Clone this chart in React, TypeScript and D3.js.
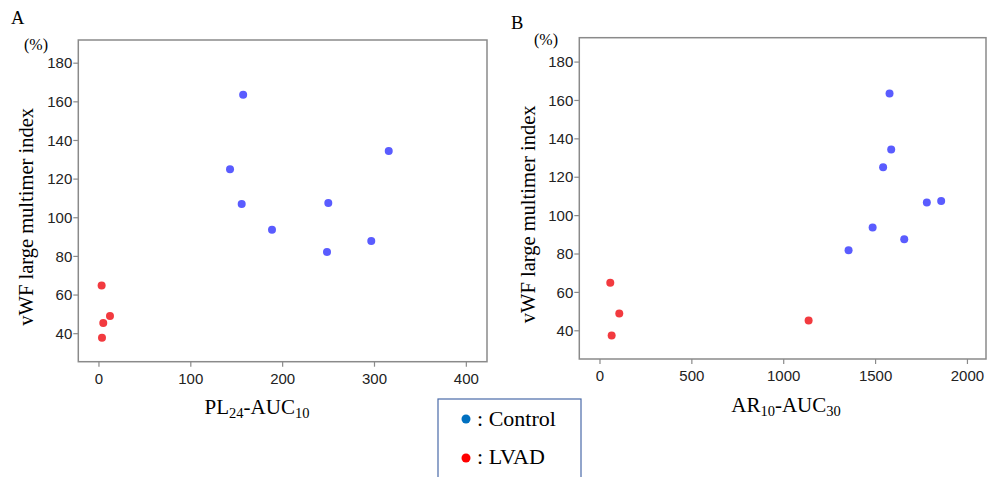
import React from 'react';
import * as d3 from 'd3';

// panel A: PL24-AUC10 vs vWF large multimer index
const controlPL = [157, 142.7, 155.4, 188.4, 249.7, 315.5, 248.3, 296.5];
const controlVWF_A = [163.6, 125.1, 107.1, 93.8, 107.7, 134.6, 82.3, 88];
const lvadPL = [2.9, 12, 4.7, 3.3];
const lvadVWF_A = [65, 49.1, 45.5, 37.9];

// panel B: AR10-AUC30 vs vWF large multimer index
const controlAR = [1576, 1585, 1541, 1779, 1857, 1484, 1353, 1656];
const controlVWF_B = [163.6, 134.4, 125.2, 106.9, 107.6, 93.8, 82, 87.7];
const lvadAR = [56, 105, 63.5, 1135.5];
const lvadVWF_B = [65, 49, 37.6, 45.4];

const yTicks = [40, 60, 80, 100, 120, 140, 160, 180];
const xTicksA = [0, 100, 200, 300, 400];
const xTicksB = [0, 500, 1000, 1500, 2000];

const legendItems = [
  { label: 'Control', color: '#0070c0' },
  { label: 'LVAD', color: '#ff0000' },
];

const CONTROL_COLOR = '#5a5cff';
const LVAD_COLOR = '#f23a3f';
const FRAME = '#8a8a8a';
const serif = '"Liberation Serif", "Times New Roman", serif';
const sans = '"Liberation Sans", Arial, sans-serif';

type PanelProps = {
  letter: string;
  letterPos: [number, number];
  pctPos: [number, number];
  box: { left: number; top: number; right: number; bottom: number };
  xDomain: [number, number];
  yDomain: [number, number];
  xTicks: number[];
  control: [number[], number[]];
  lvad: [number[], number[]];
  yTitleX: number;
  xTitle: [string, string, string, string];
  xTitleX: number;
  xTitleY: number;
};

const Panel = (p: PanelProps) => {
  const x = d3.scaleLinear().domain(p.xDomain).range([p.box.left, p.box.right]);
  const y = d3.scaleLinear().domain(p.yDomain).range([p.box.bottom, p.box.top]);
  const [cx, cy] = p.control;
  const [lx, ly] = p.lvad;
  const midY = (p.box.top + p.box.bottom) / 2;

  return (
    <g>
      <text x={p.letterPos[0]} y={p.letterPos[1]} fontFamily={serif} fontSize={18.5} fill="#000">
        {p.letter}
      </text>
      <text x={p.pctPos[0]} y={p.pctPos[1]} fontFamily={serif} fontSize={16} fill="#000">
        (%)
      </text>
      <rect
        x={p.box.left}
        y={p.box.top}
        width={p.box.right - p.box.left}
        height={p.box.bottom - p.box.top}
        fill="none"
        stroke={FRAME}
        strokeWidth={1.5}
      />
      {yTicks.map((t) => (
        <g key={'y' + t}>
          <line x1={p.box.left - 5} x2={p.box.left} y1={y(t)} y2={y(t)} stroke={FRAME} strokeWidth={1.2} />
          <text
            x={p.box.left - 6}
            y={y(t)}
            dy="0.35em"
            textAnchor="end"
            fontFamily={sans}
            fontSize={15}
            fill="#222"
          >
            {t}
          </text>
        </g>
      ))}
      {p.xTicks.map((t) => (
        <g key={'x' + t}>
          <line x1={x(t)} x2={x(t)} y1={p.box.bottom} y2={p.box.bottom + 5} stroke={FRAME} strokeWidth={1.2} />
          <text
            x={x(t)}
            y={p.box.bottom + 22}
            textAnchor="middle"
            fontFamily={sans}
            fontSize={15}
            fill="#222"
          >
            {t}
          </text>
        </g>
      ))}
      {cx.map((v, i) => (
        <circle key={'c' + i} cx={x(v)} cy={y(cy[i])} r={4} fill={CONTROL_COLOR} />
      ))}
      {lx.map((v, i) => (
        <circle key={'l' + i} cx={x(v)} cy={y(ly[i])} r={4} fill={LVAD_COLOR} />
      ))}
      <text
        transform={`translate(${p.yTitleX},${midY + 16}) rotate(-90)`}
        textAnchor="middle"
        fontFamily={serif}
        fontSize={20.5}
        fill="#000"
      >
        vWF large multimer index
      </text>
      <text x={p.xTitleX} y={p.xTitleY} textAnchor="middle" fontFamily={serif} fontSize={21} fill="#000">
        {p.xTitle[0]}
        <tspan fontSize={14.5} dy={4}>{p.xTitle[1]}</tspan>
        <tspan dy={-4}>{p.xTitle[2]}</tspan>
        <tspan fontSize={14.5} dy={4}>{p.xTitle[3]}</tspan>
      </text>
    </g>
  );
};

export default function App() {
  return (
    <svg
      width={987}
      height={477}
      style={{ position: 'absolute', left: 0, top: 0, background: '#fff' }}
    >
      <Panel
        letter="A"
        letterPos={[11, 24]}
        pctPos={[24, 50]}
        box={{ left: 78.3, top: 40, right: 487, bottom: 361.7 }}
        xDomain={[-22.5, 422.5]}
        yDomain={[25.5, 192]}
        xTicks={xTicksA}
        control={[controlPL, controlVWF_A]}
        lvad={[lvadPL, lvadVWF_A]}
        yTitleX={33}
        xTitle={['PL', '24', '-AUC', '10']}
        xTitleX={257}
        xTitleY={414}
      />
      <Panel
        letter="B"
        letterPos={[511, 29]}
        pctPos={[534, 45]}
        box={{ left: 579.3, top: 37.7, right: 986, bottom: 359 }}
        xDomain={[-112.6, 2101]}
        yDomain={[25.3, 192.7]}
        xTicks={xTicksB}
        control={[controlAR, controlVWF_B]}
        lvad={[lvadAR, lvadVWF_B]}
        yTitleX={535}
        xTitle={['AR', '10', '-AUC', '30']}
        xTitleX={786}
        xTitleY={412}
      />
      <rect x={438} y={399} width={143} height={90} fill="#fff" stroke="#4a6aa8" strokeWidth={1.2} />
      {legendItems.map((d, i) => (
        <g key={d.label}>
          <circle cx={466} cy={419 + i * 39} r={4.5} fill={d.color} />
          <text x={477} y={426 + i * 38} fontFamily={serif} fontSize={22} fill="#000">
            : {d.label}
          </text>
        </g>
      ))}
    </svg>
  );
}
